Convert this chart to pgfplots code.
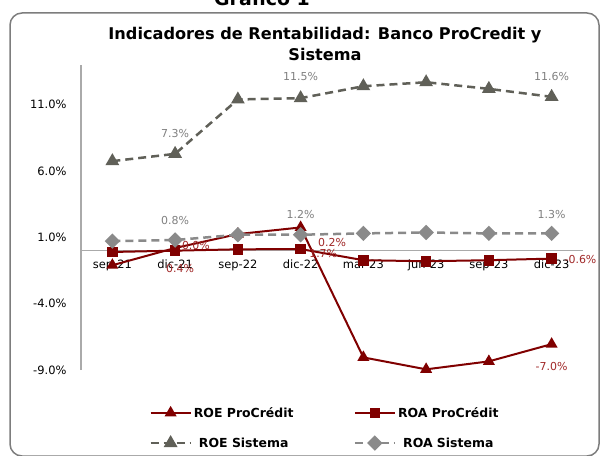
\documentclass[border=0pt]{standalone}
\usepackage{fontspec}
\setmainfont{DejaVu Sans}
\usepackage{pgfplots}
\pgfplotsset{compat=1.18}
\definecolor{dred}{RGB}{128,0,0}
\definecolor{lred}{RGB}{160,40,40}
\definecolor{dgray}{RGB}{96,96,88}
\definecolor{mgray}{RGB}{138,138,138}
\definecolor{lblgray}{RGB}{128,128,128}
\definecolor{axgray}{RGB}{170,170,170}
\definecolor{framegray}{RGB}{125,125,125}
\begin{document}
\begin{tikzpicture}
\begin{axis}[
  scale only axis, width=502bp, height=305bp,
  xmin=-0.5, xmax=7.5, ymin=-9, ymax=14,
  axis x line=middle, axis y line=left,
  axis line style={-, axgray, line width=1.2bp},
  major tick length=0pt,
  xtick={0,...,7},
  xticklabels={sep-21,dic-21,sep-22,dic-22,mar-23,jun-23,sep-23,dic-23},
  ytick={-9,-4,1,6,11},
  /pgf/number format/assume math mode=true,
  yticklabel={\pgfmathprintnumber[fixed,fixed zerofill,precision=1]{\tick}\%},
  tick label style={font=\fontsize{11.5}{13}\selectfont, text=black},
  x tick label style={anchor=north, yshift=-6bp},
  y tick label style={anchor=east, xshift=-11bp},
  clip=false,
  legend columns=2,
  legend style={draw=none, fill=none, at={(0.486,-0.108)}, anchor=north,
    font=\bfseries\fontsize{12.5}{14}\selectfont, row sep=15bp,
    /tikz/every even column/.append style={column sep=58bp}},
  legend image code/.code={\draw[mark repeat=2,mark phase=2] plot coordinates {(0bp,0bp)(20bp,0bp)(40bp,0bp)};},
]
\addplot[dred, line width=2bp, mark=triangle*, mark size=5bp, mark options={solid}]
  coordinates {(0,-1.1)(1,0.2)(2,1.25)(3,1.75)(4,-8.05)(5,-8.95)(6,-8.35)(7,-7.05)};
\addlegendentry{ROE ProCrédit}
\addplot[dred, line width=2bp, mark=square*, mark size=4.3bp, mark options={solid}]
  coordinates {(0,-0.1)(1,0.0)(2,0.1)(3,0.12)(4,-0.72)(5,-0.8)(6,-0.72)(7,-0.6)};
\addlegendentry{ROA ProCrédit}
\addplot[dgray, line width=2.5bp, dash pattern=on 8bp off 5bp, mark=triangle*, mark size=5.5bp, mark options={solid}]
  coordinates {(0,6.75)(1,7.3)(2,11.4)(3,11.5)(4,12.4)(5,12.7)(6,12.2)(7,11.6)};
\addlegendentry{ROE Sistema}
\addplot[mgray, line width=2.5bp, dash pattern=on 8bp off 5bp, mark=square*, mark size=4.2bp, mark options={solid, rotate=45}]
  coordinates {(0,0.72)(1,0.8)(2,1.2)(3,1.2)(4,1.3)(5,1.37)(6,1.3)(7,1.3)};
\addlegendentry{ROA Sistema}
\begin{scope}[every node/.style={font=\fontsize{11}{13}\selectfont}]
\node[lblgray] at (axis cs:1,8.87) {7.3\%};
\node[lblgray] at (axis cs:3,13.1) {11.5\%};
\node[lblgray] at (axis cs:7,13.1) {11.6\%};
\node[lblgray] at (axis cs:1,2.27) {0.8\%};
\node[lblgray] at (axis cs:3,2.7) {1.2\%};
\node[lblgray] at (axis cs:7,2.7) {1.3\%};
\node[lred] at (axis cs:1.08,-1.32) {0.4\%};
\node[lred] at (axis cs:3.36,-0.19) {1.7\%};
\node[lred] at (axis cs:7,-8.72) {-7.0\%};
\node[lred] at (axis cs:1.30,0.42) {-0.0\%};
\node[lred] at (axis cs:3.50,0.64) {0.2\%};
\node[lred] at (axis cs:7.46,-0.64) {-0.6\%};
\end{scope}
\draw[framegray, line width=1.5bp, rounded corners=12bp] (rel axis cs:-0.1414,-0.2820) rectangle (rel axis cs:1.0319,1.1705);
\node[font=\bfseries\fontsize{19}{22}\selectfont, anchor=base] at (rel axis cs:0.3606,1.1967) {Gráfico 1};
\node[font=\bfseries\fontsize{16.2}{18}\selectfont, anchor=base] at (rel axis cs:0.486,1.082) {Indicadores de Rentabilidad: Banco ProCredit y};
\node[font=\bfseries\fontsize{16.2}{18}\selectfont, anchor=base] at (rel axis cs:0.486,1.016) {Sistema};
\coordinate (BL) at (rel axis cs:-0.16135,-0.28197);
\coordinate (TR) at (rel axis cs:1.03586,1.21311);
\end{axis}
\pgfresetboundingbox
\path[use as bounding box] (BL) rectangle (TR);
\end{tikzpicture}
\end{document}
